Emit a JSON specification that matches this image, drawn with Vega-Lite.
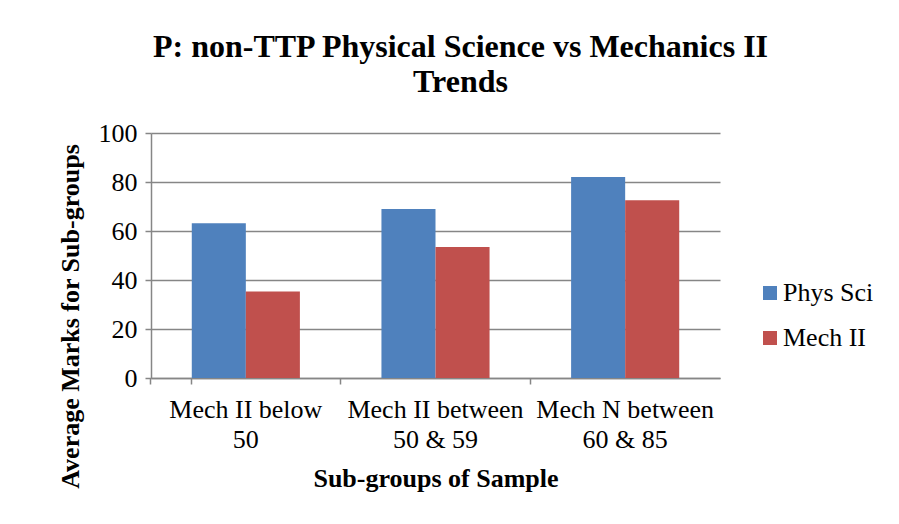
{
  "$schema": "https://vega.github.io/schema/vega-lite/v6.json",
  "width": 569,
  "height": 245,
  "autosize": {"type": "none"},
  "padding": {"left": 151, "top": 133, "right": 179, "bottom": 146},
  "background": "white",
  "title": {
    "text": ["P: non-TTP Physical Science vs Mechanics II", "Trends"],
    "font": "Liberation Serif",
    "fontSize": 32,
    "fontWeight": "bold",
    "color": "black",
    "lineHeight": 35,
    "anchor": "middle",
    "dx": 25,
    "offset": 21
  },
  "data": {
    "values": [
      {"group": "Mech II below 50", "series": "Phys Sci", "value": 63.2},
      {"group": "Mech II below 50", "series": "Mech II", "value": 35.3},
      {"group": "Mech II between 50 & 59", "series": "Phys Sci", "value": 69.0},
      {"group": "Mech II between 50 & 59", "series": "Mech II", "value": 53.5},
      {"group": "Mech N between 60 & 85", "series": "Phys Sci", "value": 82.0},
      {"group": "Mech N between 60 & 85", "series": "Mech II", "value": 72.6}
    ]
  },
  "encoding": {
    "xOffset": {
      "field": "series",
      "type": "nominal",
      "sort": ["Phys Sci", "Mech II"],
      "scale": {"paddingInner": 0, "paddingOuter": 0}
    },
    "y": {
      "field": "value",
      "type": "quantitative",
      "scale": {"domain": [0, 100], "nice": false},
      "axis": {
        "values": [0, 20, 40, 60, 80, 100],
        "title": "Average Marks for Sub-groups",
        "titleFontSize": 26,
        "titleFontWeight": "bold",
        "titleColor": "black",
        "titleX": -81,
        "titleY": 183,
        "titleBaseline": "middle",
        "labelFontSize": 26,
        "labelColor": "black",
        "labelPadding": 8,
        "tickSize": 6,
        "tickColor": "#868686",
        "tickWidth": 1.5,
        "domainColor": "#868686",
        "domainWidth": 1.5,
        "grid": true,
        "gridColor": "#868686",
        "gridWidth": 1.5
      }
    },
    "color": {
      "field": "series",
      "type": "nominal",
      "scale": {"domain": ["Phys Sci", "Mech II"], "range": ["#4F81BD", "#C0504D"]},
      "legend": {
        "title": null,
        "orient": "none",
        "legendX": 606,
        "legendY": 147,
        "padding": 0,
        "labelFont": "Liberation Serif",
        "labelFontSize": 26,
        "labelColor": "black",
        "labelOffset": 0,
        "symbolType": "square",
        "symbolSize": 196,
        "symbolStrokeWidth": 0,
        "rowPadding": 19
      }
    }
  },
  "layer": [
    {
      "mark": {"type": "bar"},
      "encoding": {
        "x": {
          "field": "group",
          "type": "nominal",
          "sort": ["Mech II below 50", "Mech II between 50 & 59", "Mech N between 60 & 85"],
          "scale": {"paddingInner": 0.43, "paddingOuter": 0.215},
          "axis": {
            "orient": "bottom",
            "title": "Sub-groups of Sample",
            "titleFontSize": 26,
            "titleFontWeight": "bold",
            "titleColor": "black",
            "titlePadding": 13,
            "labelAngle": 0,
            "labelFontSize": 26,
            "labelColor": "black",
            "labelLineHeight": 30,
            "labelPadding": 18,
            "labelBaseline": "top",
            "labelExpr": "datum.label == 'Mech II below 50' ? ['Mech II below', '50'] : datum.label == 'Mech II between 50 & 59' ? ['Mech II between', '50 & 59'] : ['Mech N between', '60 & 85']",
            "ticks": false,
            "domainColor": "#868686",
            "domainWidth": 1.5,
            "grid": false
          }
        }
      }
    },
    {
      "mark": {"type": "bar", "opacity": 0},
      "encoding": {
        "x": {
          "field": "group",
          "type": "nominal",
          "sort": ["Mech II below 50", "Mech II between 50 & 59", "Mech N between 60 & 85"],
          "axis": {
            "orient": "bottom",
            "title": null,
            "labels": false,
            "domain": false,
            "ticks": true,
            "bandPosition": -0.3772,
            "tickExtra": true,
            "tickSize": 6,
            "tickColor": "#868686",
            "tickWidth": 1.5,
            "grid": false
          }
        }
      }
    }
  ],
  "resolve": {"axis": {"x": "independent"}},
  "config": {
    "font": "Liberation Serif",
    "view": {"stroke": null}
  }
}
